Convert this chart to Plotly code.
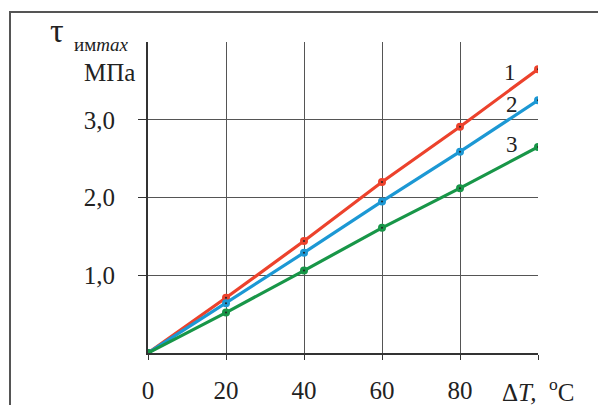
import plotly.graph_objects as go

# Data
dT = [0, 20, 40, 60, 80, 100]
tau_1 = [0, 0.71, 1.44, 2.20, 2.91, 3.65]
tau_2 = [0, 0.64, 1.29, 1.95, 2.59, 3.25]
tau_3 = [0, 0.52, 1.06, 1.61, 2.12, 2.65]
series_labels = ["1", "2", "3"]
x_ticks = [0, 20, 40, 60, 80]
x_ticktext = ["0", "20", "40", "60", "80"]
y_ticks = [1, 2, 3]
y_ticktext = ["1,0", "2,0", "3,0"]

colors = ["rgb(236,66,44)", "rgb(28,152,212)", "rgb(24,150,72)"]

OFF = 8  # page body margin
W, H = 598, 397
L, R, T, B = 148 - OFF, 68, 42 - OFF, 52
pw, ph = W - L - R, H - T - B

def px(xp):
    return (xp - OFF - L) / pw

def py(yp):
    return (T + ph - (yp - OFF)) / ph

fig = go.Figure()
for ys, c in zip([tau_1, tau_2, tau_3], colors):
    fig.add_trace(go.Scatter(x=dT, y=ys, mode="lines+markers",
                             line=dict(color=c, width=3.2),
                             marker=dict(color=c, size=8),
                             showlegend=False, hoverinfo="skip"))
for ys in [tau_1, tau_2, tau_3]:
    fig.add_trace(go.Scatter(x=dT[1:], y=ys[1:], mode="markers",
                             marker=dict(color="#222", size=2),
                             showlegend=False, hoverinfo="skip"))

font_serif = "Liberation Serif, Times New Roman, serif"
fig.update_layout(
    width=W, height=H,
    margin=dict(l=L, r=R, t=T, b=B, pad=0, autoexpand=False),
    paper_bgcolor="white", plot_bgcolor="white",
    font=dict(family=font_serif, color="#222", size=25),
    xaxis=dict(range=[0, 100], tickvals=x_ticks, ticktext=x_ticktext,
               automargin=False,
               showgrid=True, gridcolor="#555", gridwidth=1,
               showline=True, linecolor="#333", linewidth=2,
               ticks="outside", ticklen=5, tickcolor="#333", tickwidth=1,
               ticklabelstandoff=9, zeroline=False,
               minor=dict(dtick=20, tick0=0, ticks="outside", ticklen=5,
                          tickcolor="#333", tickwidth=1,
                          showgrid=True, gridcolor="#555", gridwidth=1),
               tickfont=dict(family=font_serif, size=25, color="#222")),
    yaxis=dict(range=[0, 4], tickvals=y_ticks, ticktext=y_ticktext,
               automargin=False,
               showgrid=True, gridcolor="#555", gridwidth=1,
               showline=True, linecolor="#333", linewidth=2,
               ticks="outside", ticklen=8, tickcolor="#333", tickwidth=1,
               ticklabelstandoff=18, zeroline=False,
               minor=dict(dtick=1, tick0=0, ticks="",
                          showgrid=True, gridcolor="#555", gridwidth=1),
               tickfont=dict(family=font_serif, size=25, color="#222")),
)

# outer frame
fig.add_shape(type="rect", xref="paper", yref="paper",
              x0=px(10), x1=px(620), y0=py(12), y1=py(420),
              line=dict(color="#555", width=2), layer="below")

ann = []
def add(text, xp, yp, size, xanchor="center"):
    ann.append(dict(text=text, x=px(xp), y=py(yp), xref="paper", yref="paper",
                    showarrow=False, xanchor=xanchor, yanchor="middle",
                    font=dict(family=font_serif, size=size, color="#222")))

add("τ", 57, 31, 34)
add("им<i>max</i>", 72, 44, 19, xanchor="left")
add("МПа", 137, 72, 25, xanchor="right")
add(series_labels[0], 510, 72, 23)
add(series_labels[1], 512, 104, 23)
add(series_labels[2], 512, 144, 23)
add("Δ<i>T,</i>  <sup>o</sup>C", 538, 390, 25)
fig.update_layout(annotations=ann)

fig.write_html("out.html")
